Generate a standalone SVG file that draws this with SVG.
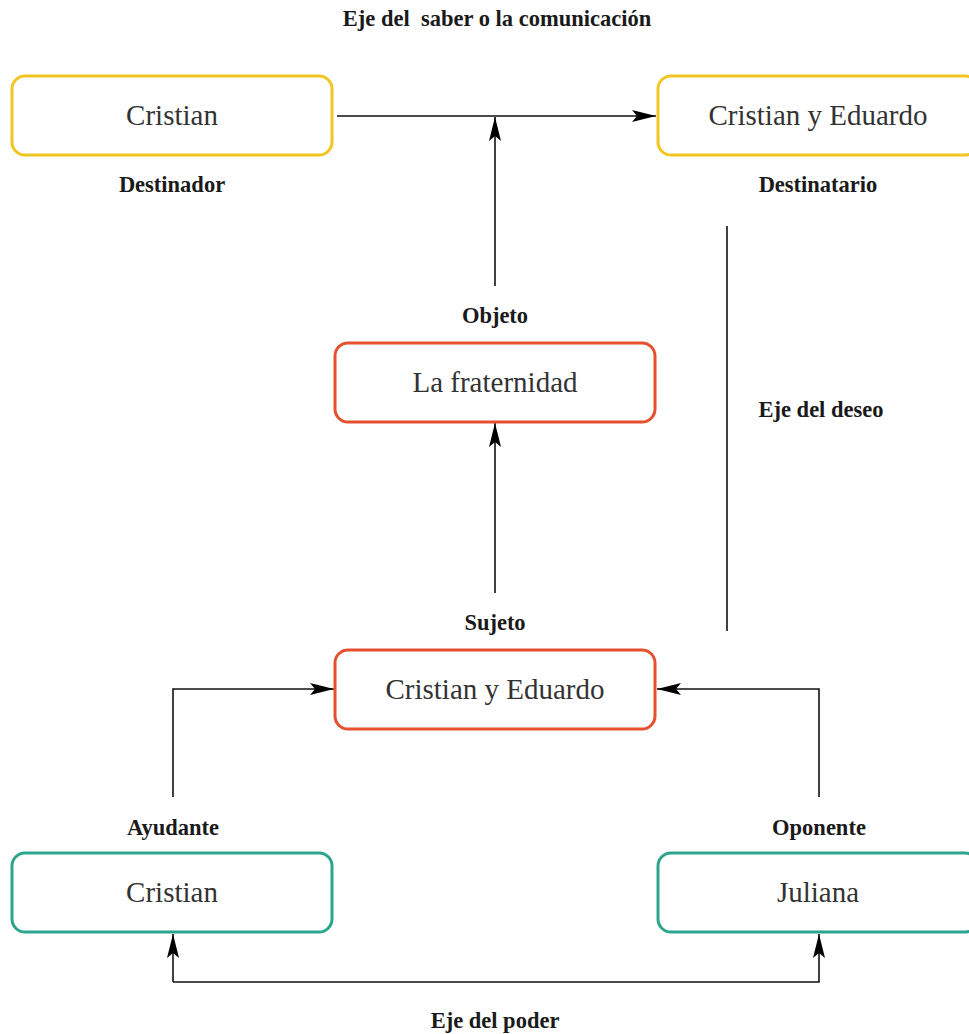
<svg xmlns="http://www.w3.org/2000/svg" width="969" height="1034" viewBox="0 0 969 1034">
  <style>
    .box { fill: #ffffff; stroke-width: 3; }
    .yellow { stroke: #F2C523; }
    .red { stroke: #E5502F; }
    .teal { stroke: #2BA58E; }
    .txt { font-family: 'Liberation Serif', 'Times New Roman', 'DejaVu Serif', serif; font-size: 29px; fill: #333333; text-anchor: middle; }
    .lbl { font-family: 'Liberation Serif', 'Times New Roman', 'DejaVu Serif', serif; font-size: 22.5px; font-weight: bold; fill: #1a1a1a; text-anchor: middle; }
    .edge { fill: none; stroke: #111111; stroke-width: 1.6; }
  </style>
  <defs>
    <marker id="arrow" viewBox="0 0 24 12" refX="24" refY="6" markerWidth="24" markerHeight="12" markerUnits="userSpaceOnUse" orient="auto">
      <path d="M0,0 L24,6 L0,12 L5,6 Z" fill="#000000"/>
    </marker>
  </defs>
  <rect width="969" height="1034" fill="#ffffff"/>

  <!-- axis and role labels -->
  <g id="labels">
    <text class="lbl" x="497" y="26" xml:space="preserve">Eje del  saber o la comunicación</text>
    <text class="lbl" x="172" y="192">Destinador</text>
    <text class="lbl" x="818" y="192">Destinatario</text>
    <text class="lbl" x="495" y="323">Objeto</text>
    <text class="lbl" x="821" y="417">Eje del deseo</text>
    <text class="lbl" x="495" y="630">Sujeto</text>
    <text class="lbl" x="173" y="835">Ayudante</text>
    <text class="lbl" x="819" y="835">Oponente</text>
    <text class="lbl" x="495" y="1028">Eje del poder</text>
  </g>

  <!-- connectors -->
  <g id="connectors">
    <path class="edge" d="M337,116 L656,116" marker-end="url(#arrow)"/>
    <path class="edge" d="M495,286 L495,117" marker-end="url(#arrow)"/>
    <path class="edge" d="M495,593 L495,423" marker-end="url(#arrow)"/>
    <path class="edge" d="M727,226 L727,631"/>
    <path class="edge" d="M173,797 L173,689 L334,689" marker-end="url(#arrow)"/>
    <path class="edge" d="M819,797 L819,689 L657,689" marker-end="url(#arrow)"/>
    <path class="edge" d="M173,982 L819,982 L819,934" marker-end="url(#arrow)"/>
    <path class="edge" d="M173,982 L173,934" marker-end="url(#arrow)"/>
  </g>

  <!-- nodes -->
  <g id="destinador">
    <rect class="box yellow" x="12" y="76" width="320" height="79" rx="13"/>
    <text class="txt" x="172" y="125">Cristian</text>
  </g>
  <g id="destinatario">
    <rect class="box yellow" x="658" y="76" width="320" height="79" rx="13"/>
    <text class="txt" x="818" y="125">Cristian y Eduardo</text>
  </g>
  <g id="objeto">
    <rect class="box red" x="335" y="343" width="320" height="79" rx="13"/>
    <text class="txt" x="495" y="392">La fraternidad</text>
  </g>
  <g id="sujeto">
    <rect class="box red" x="335" y="650" width="320" height="79" rx="13"/>
    <text class="txt" x="495" y="699">Cristian y Eduardo</text>
  </g>
  <g id="ayudante">
    <rect class="box teal" x="12" y="853" width="320" height="79" rx="13"/>
    <text class="txt" x="172" y="902">Cristian</text>
  </g>
  <g id="oponente">
    <rect class="box teal" x="658" y="853" width="320" height="79" rx="13"/>
    <text class="txt" x="818" y="902">Juliana</text>
  </g>
</svg>
